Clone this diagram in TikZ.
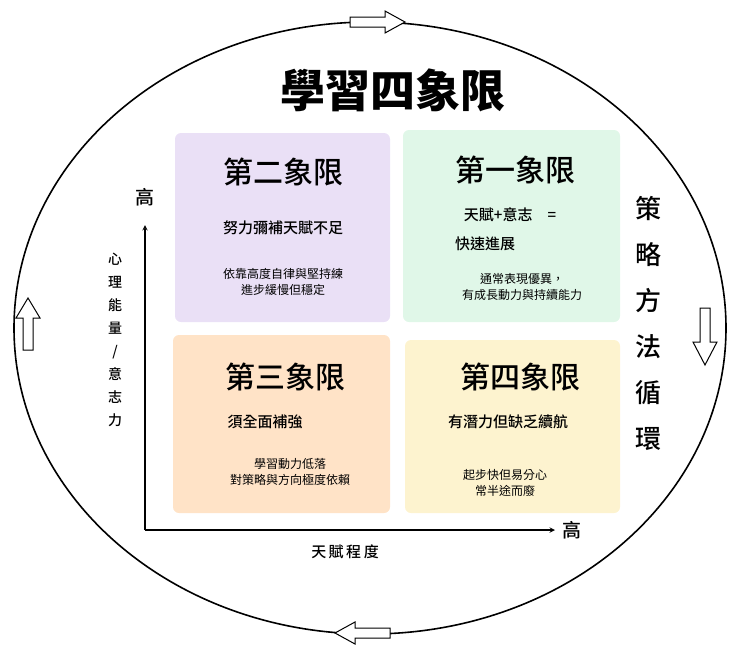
\documentclass[tikz,border=0pt]{standalone}
\usepackage{fontspec}
\setmainfont{Noto Sans CJK TC}
\newfontfamily\medfont{Noto Sans CJK TC Medium}
\definecolor{qyellow}{HTML}{FDF3CF}
\begin{document}
\begin{tikzpicture}[x=1pt,y=-1pt,
 quad/.style={rounded corners=6pt,draw=none},
 qt/.style={font=\fontsize{30}{32}\selectfont\medfont},
 qs/.style={font=\fontsize{15}{18}\selectfont\medfont},
 qn/.style={font=\fontsize{12}{16}\selectfont,align=center},
 harrow/.style={draw=black,fill=white,line width=1pt,line join=miter}]
\useasboundingbox (0,0) rectangle (740,662);
\draw[line width=1.6pt] (370,328) ellipse [x radius=356, y radius=306];
% hollow arrows
\draw[harrow] (350,17)--(385,17)--(385,11)--(405,22)--(385,33)--(385,27)--(350,27)--cycle;
\draw[harrow] (390,628)--(355,628)--(355,622)--(335,633)--(355,644)--(355,638)--(390,638)--cycle;
\draw[harrow] (23,350)--(23,318)--(16,318)--(28,298)--(40,318)--(33,318)--(33,350)--cycle;
\draw[harrow] (700,308)--(700,342)--(693,342)--(705,365)--(717,342)--(710,342)--(710,308)--cycle;
\node (title) at (393,90) {\fontsize{45}{48}\selectfont\bfseries 學習四象限};
% quadrants
\fill[quad,fill=blue!40!violet!12] (175,133) rectangle (390,322);
\fill[quad,fill=green!50!teal!12] (403,130) rectangle (620,322);
\fill[quad,fill=orange!22] (173,335) rectangle (390,513);
\fill[quad,fill=qyellow] (405,340) rectangle (620,513);
\node[qt] (q2) at (283,172) {第二象限};
\node[qs] (q2a) at (283,228) {努力彌補天賦不足};
\node[qn] (q2b) at (283,282) {依靠高度自律與堅持練\\進步緩慢但穩定};
\node[qt] (q1) at (515,170) {第一象限};
\node[qs] (q1a) at (510,215) {天賦+意志\quad =};
\node[qs] (q1b) at (485,244) {快速進展};
\node[qn] (q1c) at (522,287) {通常表現優異，\\有成長動力與持續能力};
\node[qt] (q3) at (285,377) {第三象限};
\node[qs] (q3a) at (265,422) {須全面補強};
\node[qn] (q3b) at (290,472) {學習動力低落\\對策略與方向極度依賴};
\node[qt] (q4) at (520,377) {第四象限};
\node[qs] (q4a) at (508,422) {有潛力但缺乏續航};
\node[qn] (q4b) at (505,483) {起步快但易分心\\常半途而廢};
% axes
\coordinate (o) at (145,530);
\coordinate (yt) at (145,225);
\coordinate (xt) at (555,530);
\draw[line width=1.4pt,-stealth] (o)--(yt);
\draw[line width=1.4pt,-stealth] (o)--(xt);
\node[font=\fontsize{19}{20}\selectfont\medfont] (yh) at (145,197) {高};
\node[font=\fontsize{19}{20}\selectfont\medfont] (xh) at (572,530) {高};
\node[font=\fontsize{14}{23}\selectfont\medfont,align=center] (yl) at (115,340) {心\\理\\能\\量\\/\\意\\志\\力};
\node[font=\fontsize{15}{18}\selectfont\medfont] (xl) at (345,552) {天\,賦\,程\,度};
\node[font=\fontsize{26}{46}\selectfont\medfont,align=center] (rl) at (648,323) {策\\略\\方\\法\\循\\環};
\end{tikzpicture}
\end{document}
